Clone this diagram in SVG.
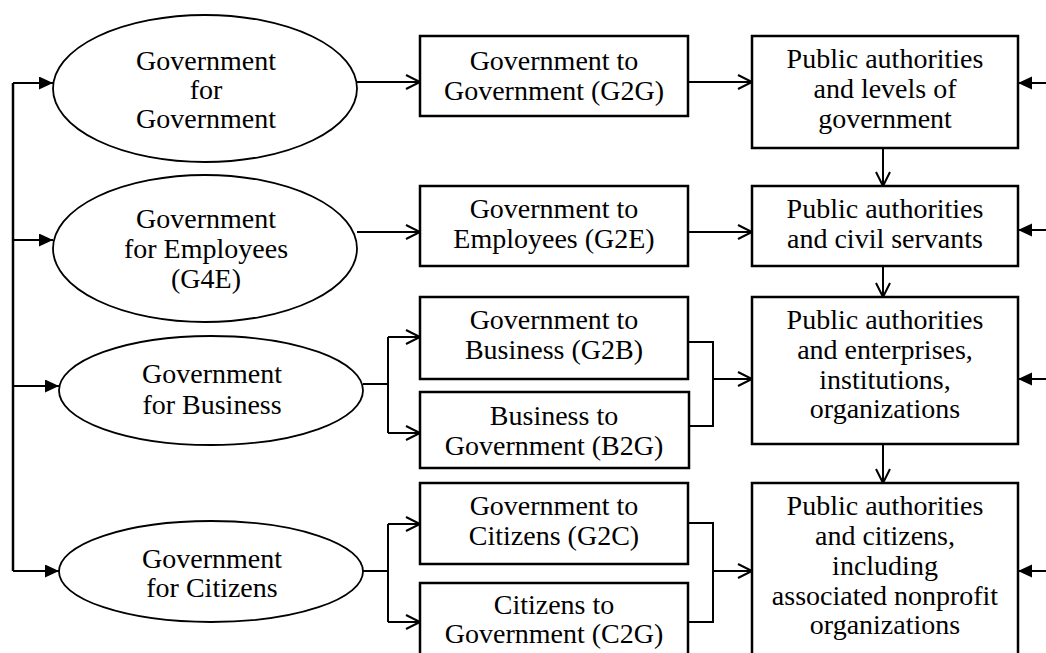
<svg xmlns="http://www.w3.org/2000/svg" width="1046" height="653" viewBox="0 0 1046 653">
<style>
.n{fill:#fff;stroke:#000;stroke-width:2.5}
.e{fill:#fff;stroke:#000;stroke-width:1.8}
.c{fill:none;stroke:#000;stroke-width:2}
.t{font-family:"Liberation Serif","Times New Roman",serif;font-size:28px;fill:#000;text-anchor:middle}
</style>
<defs>
<marker id="open" markerUnits="userSpaceOnUse" markerWidth="18" markerHeight="18" refX="15" refY="8" orient="auto">
<path d="M1,1 L15,8 L1,15" fill="none" stroke="#000" stroke-width="2"/>
</marker>
<marker id="fill" markerUnits="userSpaceOnUse" markerWidth="16" markerHeight="14" refX="14" refY="6.5" orient="auto">
<path d="M0,0 L14,6.5 L0,13 z" fill="#000"/>
</marker>
</defs>
<rect width="1046" height="653" fill="#fff"/>
<g id="connectors">
<path class="c" d="M13,83 V571" style="stroke-width:2.5"/>
<path class="c" d="M13,83 H53" marker-end="url(#fill)"/>
<path class="c" d="M13,240 H53" marker-end="url(#fill)"/>
<path class="c" d="M13,386 H59" marker-end="url(#fill)"/>
<path class="c" d="M13,571 H59" marker-end="url(#fill)"/>
<path class="c" d="M357,82 H420" marker-end="url(#open)"/>
<path class="c" d="M688,82 H752" marker-end="url(#open)"/>
<path class="c" d="M357,232 H420" marker-end="url(#open)"/>
<path class="c" d="M688,232 H752" marker-end="url(#open)"/>
<path class="c" d="M363,384 H388 M388,337 V433"/>
<path class="c" d="M388,337 H420" marker-end="url(#open)"/>
<path class="c" d="M388,433 H420" marker-end="url(#open)"/>
<path class="c" d="M363,571 H388 M388,524 V622"/>
<path class="c" d="M388,524 H420" marker-end="url(#open)"/>
<path class="c" d="M388,622 H420" marker-end="url(#open)"/>
<path class="c" d="M688,342 H713 V426 H688"/>
<path class="c" d="M713,379 H752" marker-end="url(#open)"/>
<path class="c" d="M688,523 H713 V622 H688"/>
<path class="c" d="M713,571 H752" marker-end="url(#open)"/>
<path class="c" d="M883,148 V186" marker-end="url(#open)"/>
<path class="c" d="M883,266 V297" marker-end="url(#open)"/>
<path class="c" d="M883,444 V483" marker-end="url(#open)"/>
<path class="c" d="M1046,83 H1018" marker-end="url(#fill)"/>
<path class="c" d="M1046,230 H1018" marker-end="url(#fill)"/>
<path class="c" d="M1046,379 H1018" marker-end="url(#fill)"/>
<path class="c" d="M1046,571 H1018" marker-end="url(#fill)"/>
</g>
<g id="g4g">
<ellipse class="e" cx="205" cy="88.5" rx="152" ry="73.5"/>
<text class="t" x="206" y="70">Government</text>
<text class="t" x="206" y="99">for</text>
<text class="t" x="206" y="128">Government</text>
</g>
<g id="g4e">
<ellipse class="e" cx="205" cy="248.5" rx="152" ry="73.5"/>
<text class="t" x="206" y="228">Government</text>
<text class="t" x="206" y="258">for Employees</text>
<text class="t" x="206" y="288">(G4E)</text>
</g>
<g id="g4b">
<ellipse class="e" cx="211" cy="390.5" rx="152" ry="54.5"/>
<text class="t" x="212" y="383">Government</text>
<text class="t" x="212" y="414">for Business</text>
</g>
<g id="g4c">
<ellipse class="e" cx="211" cy="571.5" rx="152" ry="50.5"/>
<text class="t" x="212" y="568">Government</text>
<text class="t" x="212" y="597">for Citizens</text>
</g>
<g id="g2g">
<rect class="n" x="420" y="36" width="268" height="80"/>
<text class="t" x="554" y="70">Government to</text>
<text class="t" x="554" y="100">Government (G2G)</text>
</g>
<g id="g2e">
<rect class="n" x="420" y="186" width="268" height="80"/>
<text class="t" x="554" y="218">Government to</text>
<text class="t" x="554" y="248">Employees (G2E)</text>
</g>
<g id="g2b">
<rect class="n" x="420" y="297" width="268" height="82"/>
<text class="t" x="554" y="329">Government to</text>
<text class="t" x="554" y="359">Business (G2B)</text>
</g>
<g id="b2g">
<rect class="n" x="420" y="392" width="269" height="76"/>
<text class="t" x="554" y="425">Business to</text>
<text class="t" x="554" y="455">Government (B2G)</text>
</g>
<g id="g2c">
<rect class="n" x="420" y="483" width="268" height="81"/>
<text class="t" x="554" y="515">Government to</text>
<text class="t" x="554" y="545">Citizens (G2C)</text>
</g>
<g id="c2g">
<rect class="n" x="420" y="583" width="268" height="85"/>
<text class="t" x="554" y="614">Citizens to</text>
<text class="t" x="554" y="643">Government (C2G)</text>
</g>
<g id="pa-levels">
<rect class="n" x="752" y="36" width="266" height="112"/>
<text class="t" x="885" y="68">Public authorities</text>
<text class="t" x="885" y="98">and levels of</text>
<text class="t" x="885" y="128">government</text>
</g>
<g id="pa-civil">
<rect class="n" x="752" y="186" width="266" height="80"/>
<text class="t" x="885" y="218">Public authorities</text>
<text class="t" x="885" y="248">and civil servants</text>
</g>
<g id="pa-enterprises">
<rect class="n" x="752" y="297" width="266" height="147"/>
<text class="t" x="885" y="329">Public authorities</text>
<text class="t" x="885" y="359">and enterprises,</text>
<text class="t" x="885" y="389">institutions,</text>
<text class="t" x="885" y="418">organizations</text>
</g>
<g id="pa-citizens">
<rect class="n" x="752" y="483" width="266" height="185"/>
<text class="t" x="885" y="515">Public authorities</text>
<text class="t" x="885" y="545">and citizens,</text>
<text class="t" x="885" y="575">including</text>
<text class="t" x="885" y="605">associated nonprofit</text>
<text class="t" x="885" y="634">organizations</text>
</g>
</svg>
